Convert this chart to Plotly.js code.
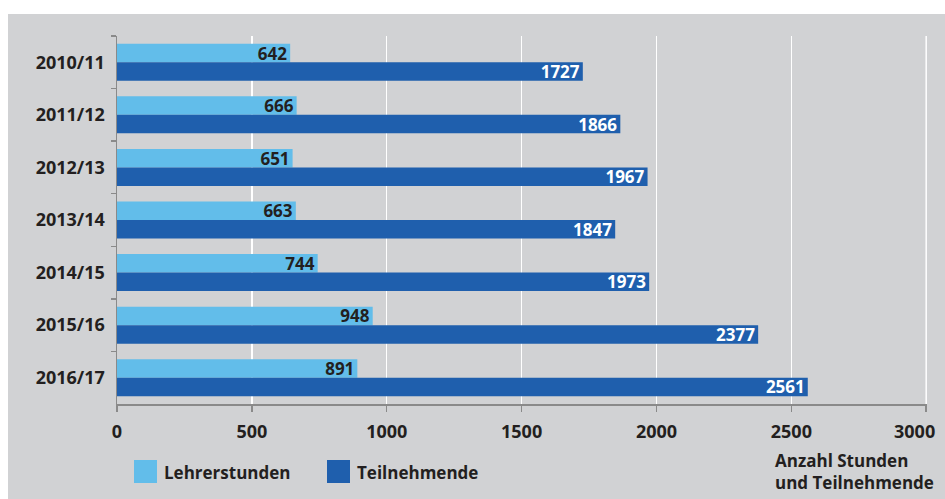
<!DOCTYPE html>
<html>
<head>
<meta charset="utf-8">
<script src="https://cdn.plot.ly/plotly-3.0.1.min.js"></script>
<style>html,body{margin:0;padding:0;background:#fff;}#chart{width:945px;height:499px;}</style>
</head>
<body>
<div id="chart"></div>
<script>
var categories = ["2010/11", "2011/12", "2012/13", "2013/14", "2014/15", "2015/16", "2016/17"];
var lehrerstunden = [642, 666, 651, 663, 744, 948, 891];
var teilnehmende = [1727, 1866, 1967, 1847, 1973, 2377, 2561];
var seriesNames = ["Lehrerstunden", "Teilnehmende"];
var xTickValues = [0, 500, 1000, 1500, 2000, 2500, 3000];
var xTickLabels = ["0", "500", "1000", "1500", "2000", "2500", "3000"];
var axisTitleLines = ["Anzahl Stunden", "und Teilnehmende"];

var FONT = "Open Sans, Liberation Sans, sans-serif";
var LIGHT = "#62bdea";
var DARK = "#1f5fad";
var GREY = "#d1d2d4";
var TEXT = "#231f20";

var W = 945, H = 499;
var mL = 117, mR = 18, mT = 36, mB = 95;
var pw = W - mL - mR, ph = H - mT - mB;
function px(x) { return (x - mL) / pw; }
function py(y) { return (H - mB - y) / ph; }

var last = xTickValues.length - 1;
var shownTickText = xTickLabels.map(function (t, i) { return i === last ? "" : t; });

var traces = [
  {
    type: "bar", orientation: "h", name: seriesNames[0],
    y: categories, x: lehrerstunden,
    text: lehrerstunden.map(String), textposition: "inside", insidetextanchor: "end",
    constraintext: "none", textangle: 0,
    textfont: {family: FONT, size: 17, color: TEXT, weight: "bold"},
    marker: {color: LIGHT, line: {width: 0}},
    showlegend: false, hoverinfo: "x+y"
  },
  {
    type: "bar", orientation: "h", name: seriesNames[1],
    y: categories, x: teilnehmende,
    text: teilnehmende.map(String), textposition: "inside", insidetextanchor: "end",
    constraintext: "none", textangle: 0,
    textfont: {family: FONT, size: 17, color: "#ffffff", weight: "bold"},
    marker: {color: DARK, line: {width: 0}},
    showlegend: false, hoverinfo: "x+y"
  }
];

var shapes = [
  {type: "rect", xref: "paper", yref: "paper", layer: "below",
   x0: px(8), x1: px(W + 2), y0: py(H + 2), y1: py(14),
   fillcolor: GREY, line: {width: 0}},
  {type: "line", xref: "x", yref: "paper", layer: "below",
   x0: xTickValues[last], x1: xTickValues[last], y0: 0, y1: 1,
   line: {color: "#ffffff", width: 1.5}},
  {type: "rect", xref: "paper", yref: "paper",
   x0: px(134), x1: px(157), y0: py(483), y1: py(460),
   fillcolor: LIGHT, line: {width: 0}},
  {type: "rect", xref: "paper", yref: "paper",
   x0: px(327), x1: px(350), y0: py(483), y1: py(460),
   fillcolor: DARK, line: {width: 0}}
];

var annotations = [
  {xref: "paper", yref: "paper", x: px(162), y: py(472), xanchor: "left", yanchor: "middle",
   text: seriesNames[0], showarrow: false, font: {family: FONT, size: 17, color: TEXT, weight: "bold"}},
  {xref: "paper", yref: "paper", x: px(355), y: py(472), xanchor: "left", yanchor: "middle",
   text: seriesNames[1], showarrow: false, font: {family: FONT, size: 17, color: TEXT, weight: "bold"}},
  {xref: "paper", yref: "paper", x: px(773), y: py(471), xanchor: "left", yanchor: "middle", align: "left",
   text: axisTitleLines.join("<br>"), showarrow: false,
   font: {family: FONT, size: 17, color: TEXT, weight: "bold"}},
  {xref: "x", yref: "paper", x: xTickValues[last], y: py(431), xanchor: "right", yanchor: "middle",
   xshift: 11, text: xTickLabels[last], showarrow: false,
   font: {family: FONT, size: 18, color: TEXT, weight: "bold"}}
];

var layout = {
  width: W, height: H,
  margin: {l: mL, r: mR, t: mT, b: mB, pad: 0},
  paper_bgcolor: "#ffffff",
  plot_bgcolor: "rgba(0,0,0,0)",
  barmode: "group",
  bargap: 0.296, bargroupgap: 0,
  showlegend: false,
  font: {family: FONT, color: TEXT},
  xaxis: {
    range: [0, 3003], tickvals: xTickValues, ticktext: shownTickText,
    ticklabeloverflow: "allow",
    showgrid: true, gridcolor: "#ffffff", gridwidth: 1.5,
    zeroline: false, showline: true, linecolor: "#8a8a8a", linewidth: 1.5,
    ticks: "outside", ticklen: 6, tickcolor: "#8a8a8a", tickwidth: 1.5,
    ticklabelstandoff: 5,
    tickfont: {family: FONT, size: 18, color: TEXT, weight: "bold"},
    fixedrange: true
  },
  yaxis: {
    type: "category", autorange: "reversed",
    showgrid: false, zeroline: false, showline: true, linecolor: "#8a8a8a", linewidth: 1.5,
    ticks: "outside", tickson: "boundaries", ticklen: 5, tickcolor: "#8a8a8a", tickwidth: 1.5,
    ticklabelstandoff: 7,
    tickfont: {family: FONT, size: 18, color: TEXT, weight: "bold"},
    fixedrange: true
  },
  shapes: shapes,
  annotations: annotations
};

Plotly.newPlot("chart", traces, layout, {displayModeBar: false, staticPlot: true});
</script>
</body>
</html>
